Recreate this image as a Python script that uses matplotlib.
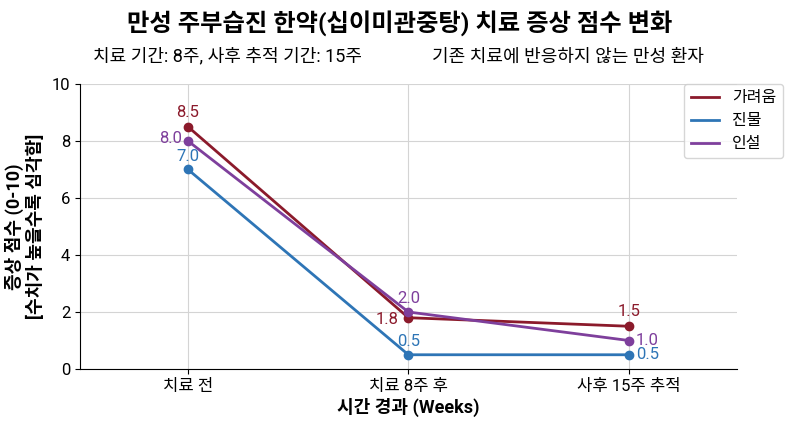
import matplotlib
matplotlib.use("Agg")
import matplotlib.pyplot as plt

plt.rcParams['font.family'] = ['Roboto', 'Noto Sans CJK KR', 'DejaVu Sans']

stages = ['치료 전', '치료 8주 후', '사후 15주 추적']
series_names = ['가려움', '진물', '인설']
itch = [8.5, 1.8, 1.5]
exudate = [7.0, 0.5, 0.5]
scale = [8.0, 2.0, 1.0]
colors = ['#8B1A2B', '#2E75B6', '#7E3F9C']

fig = plt.figure(figsize=(8, 4.21), dpi=100)
ax = fig.add_axes([0.1, 0.1235, 0.821, 0.677])

x = list(range(len(stages)))
for vals, name, c in zip([itch, exudate, scale], series_names, colors):
    ax.plot(x, vals, color=c, lw=2, label=name)
    ax.plot(x, vals, 'o', color=c, ms=6)

# per series per point: (dx, dy, ha, va) in points
layout = [
    [(0, 5, 'center', 'bottom'), (-7, -1, 'right', 'center'), (0, 5, 'center', 'bottom')],
    [(0, 4, 'center', 'bottom'), (0, 4, 'center', 'bottom'), (5, 0, 'left', 'center')],
    [(-4, 2, 'right', 'center'), (0, 4, 'center', 'bottom'), (5, 0, 'left', 'center')],
]
for si, (vals, c) in enumerate(zip([itch, exudate, scale], colors)):
    for i, v in enumerate(vals):
        dx, dy, ha, va = layout[si][i]
        ax.annotate(f'{v:.1f}', (i, v), xytext=(dx, dy), textcoords='offset points',
                    ha=ha, va=va, color=c, fontsize=12)

ax.set_xlim(-0.49, 2.49)
ax.set_ylim(0, 10)
ax.set_xticks(x)
ax.set_xticklabels(stages, fontsize=12)
ax.set_yticks([0, 2, 4, 6, 8, 10])
ax.tick_params(axis='y', labelsize=12)
ax.grid(True, color='#d4d4d4', lw=0.8)
ax.set_axisbelow(True)
for s in ['top', 'right']:
    ax.spines[s].set_visible(False)
ax.set_xlabel('시간 경과 (Weeks)', fontsize=13, fontweight='bold', labelpad=3)
ax.set_ylabel('증상 점수 (0-10)\n[수치가 높을수록 심각함]', fontsize=13, fontweight='bold',
              linespacing=1.2, labelpad=5)

ax.legend(loc='upper right', bbox_to_anchor=(1.07, 1.0), borderaxespad=0, fontsize=11.5,
          frameon=True, handlelength=1.8)

fig.text(0.5, 0.945, '만성 주부습진 한약(십이미관중탕) 치료 증상 점수 변화', ha='center', va='center',
         fontsize=17.5, fontweight='bold')
fig.text(0.116, 0.866, '치료 기간: 8주, 사후 추적 기간: 15주', ha='left', va='center', fontsize=13)
fig.text(0.54, 0.866, '기존 치료에 반응하지 않는 만성 환자', ha='left', va='center', fontsize=13)

fig.savefig('out.png', dpi=100, facecolor='white')
